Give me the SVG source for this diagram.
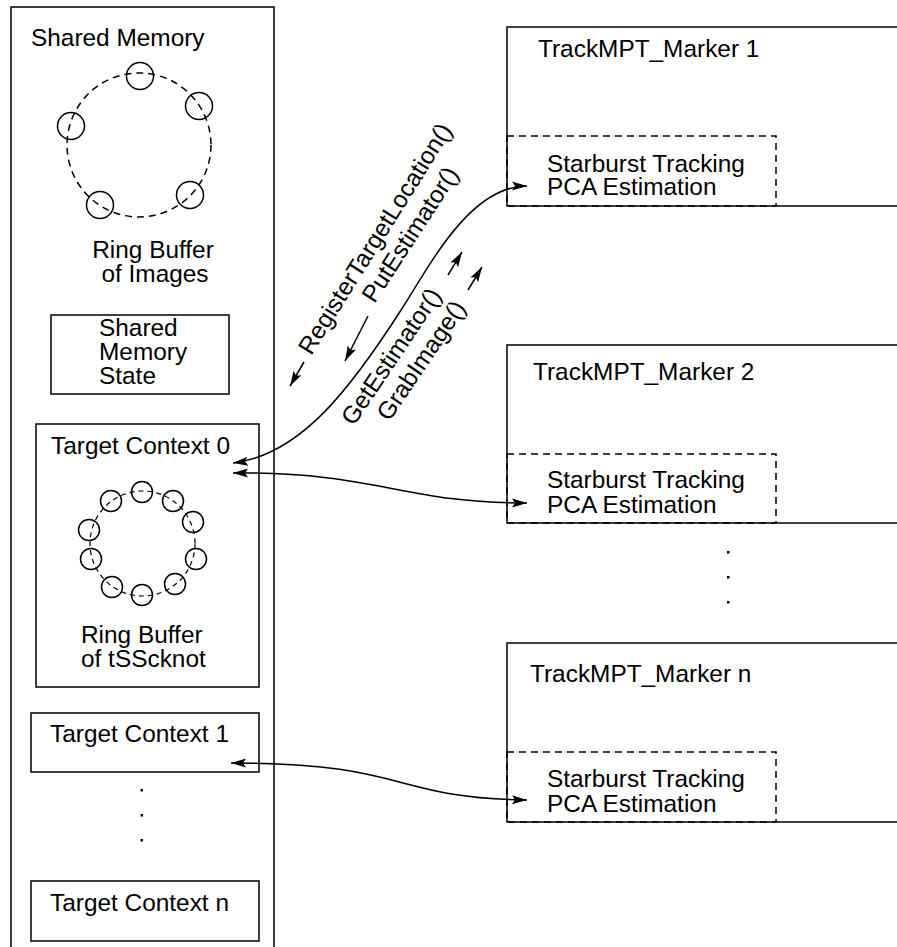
<svg xmlns="http://www.w3.org/2000/svg" width="897" height="947" viewBox="0 0 897 947">
<style>
text{font-family:"Liberation Sans",Arial,sans-serif;font-size:24.4px;fill:#000}
.box{fill:none;stroke:#000;stroke-width:1.5}
.dbox{fill:none;stroke:#000;stroke-width:1.5;stroke-dasharray:7 5}
.ring{fill:none;stroke:#000;stroke-width:1.5;stroke-dasharray:7 5}
.ring2{fill:none;stroke:#000;stroke-width:1.2;stroke-dasharray:5 4}
.slot{fill:none;stroke:#000;stroke-width:1.5}
.conn{fill:none;stroke:#000;stroke-width:1.5}
.dot{fill:#000}
</style>
<defs>
<marker id="ah" viewBox="-16 -5 17 10" refX="0" refY="0" markerWidth="17" markerHeight="10" markerUnits="userSpaceOnUse" orient="auto-start-reverse">
<path d="M0,0 L-15,-4.5 L-12,0 L-15,4.5 Z" fill="#000"/>
</marker>
</defs>

<g id="shared-memory">
<rect class="box" x="11" y="7" width="263" height="960"/>
<text x="31" y="46">Shared Memory</text>
</g>

<g id="ring-buffer-images">
<circle class="ring" cx="139" cy="145" r="72"/>
<circle class="slot" cx="140" cy="76" r="13.5"/>
<circle class="slot" cx="199" cy="106" r="13.5"/>
<circle class="slot" cx="71" cy="126" r="13.5"/>
<circle class="slot" cx="100" cy="205" r="13.5"/>
<circle class="slot" cx="190" cy="195" r="13.5"/>
<text x="153" y="258" text-anchor="middle">Ring Buffer</text>
<text x="155" y="282" text-anchor="middle">of Images</text>
</g>

<g id="shared-memory-state">
<rect class="box" x="51" y="315" width="178" height="79"/>
<text x="99" y="336">Shared</text>
<text x="99" y="360">Memory</text>
<text x="99" y="384">State</text>
</g>

<g id="target-context-0">
<rect class="box" x="36" y="424" width="223" height="263"/>
<text x="51" y="454">Target Context 0</text>
<circle class="ring2" cx="142.5" cy="543.5" r="52.5"/>
<circle class="slot" cx="142" cy="492" r="10.5"/>
<circle class="slot" cx="173" cy="501" r="10.5"/>
<circle class="slot" cx="193" cy="522" r="10.5"/>
<circle class="slot" cx="196" cy="559" r="10.5"/>
<circle class="slot" cx="175" cy="584" r="10.5"/>
<circle class="slot" cx="142" cy="595" r="10.5"/>
<circle class="slot" cx="112" cy="587" r="10.5"/>
<circle class="slot" cx="91" cy="559" r="10.5"/>
<circle class="slot" cx="89" cy="530" r="10.5"/>
<circle class="slot" cx="111" cy="501" r="10.5"/>
<text x="81" y="643">Ring Buffer</text>
<text x="81" y="667">of tSScknot</text>
</g>

<g id="target-context-1">
<rect class="box" x="31" y="713" width="228" height="59"/>
<text x="50" y="742">Target Context 1</text>
</g>

<g id="context-dots">
<rect class="dot" x="140.5" y="789" width="2.5" height="2.5"/>
<rect class="dot" x="140.5" y="814" width="2.5" height="2.5"/>
<rect class="dot" x="140.5" y="839" width="2.5" height="2.5"/>
</g>

<g id="target-context-n">
<rect class="box" x="31" y="881" width="228" height="60"/>
<text x="50" y="911">Target Context n</text>
</g>

<g id="marker-1">
<rect class="box" x="507" y="27" width="420" height="179"/>
<text x="538" y="57">TrackMPT_Marker 1</text>
<rect class="dbox" x="507" y="136" width="269" height="70"/>
<text x="547" y="172">Starburst Tracking</text>
<text x="547" y="195">PCA Estimation</text>
</g>

<g id="marker-2">
<rect class="box" x="507" y="345" width="420" height="178"/>
<text x="533" y="380">TrackMPT_Marker 2</text>
<rect class="dbox" x="507" y="454" width="269" height="69"/>
<text x="547" y="488">Starburst Tracking</text>
<text x="547" y="513">PCA Estimation</text>
</g>

<g id="marker-dots">
<rect class="dot" x="727" y="551" width="2.5" height="2.5"/>
<rect class="dot" x="727" y="576" width="2.5" height="2.5"/>
<rect class="dot" x="727" y="601" width="2.5" height="2.5"/>
</g>

<g id="marker-n">
<rect class="box" x="507" y="643" width="420" height="179"/>
<text x="530" y="682">TrackMPT_Marker n</text>
<rect class="dbox" x="507" y="752" width="269" height="70"/>
<text x="547" y="787">Starburst Tracking</text>
<text x="547" y="812">PCA Estimation</text>
</g>

<g id="connectors">
<path class="conn" d="M233,463 C300,455 350,390 403,307 C430,265 470,186 527,186" marker-start="url(#ah)" marker-end="url(#ah)"/>
<path class="conn" d="M233,473 C380,472 400,503 527,503" marker-start="url(#ah)" marker-end="url(#ah)"/>
<path class="conn" d="M231,763 C410,763 390,798 527,800" marker-start="url(#ah)" marker-end="url(#ah)"/>
<line class="conn" x1="304" y1="362" x2="290" y2="386" marker-end="url(#ah)"/>
<line class="conn" x1="368" y1="316" x2="345" y2="361" marker-end="url(#ah)"/>
<line class="conn" x1="448" y1="275" x2="462" y2="252" marker-end="url(#ah)"/>
<line class="conn" x1="468" y1="290" x2="482" y2="267" marker-end="url(#ah)"/>
</g>

<g id="labels">
<text transform="translate(382,243) rotate(-58)" text-anchor="middle">RegisterTargetLocation()</text>
<text transform="translate(417,239) rotate(-57)" text-anchor="middle">PutEstimator()</text>
<text transform="translate(398,361) rotate(-56)" text-anchor="middle">GetEstimator()</text>
<text transform="translate(428,365) rotate(-56)" text-anchor="middle">GrabImage()</text>
</g>
</svg>
